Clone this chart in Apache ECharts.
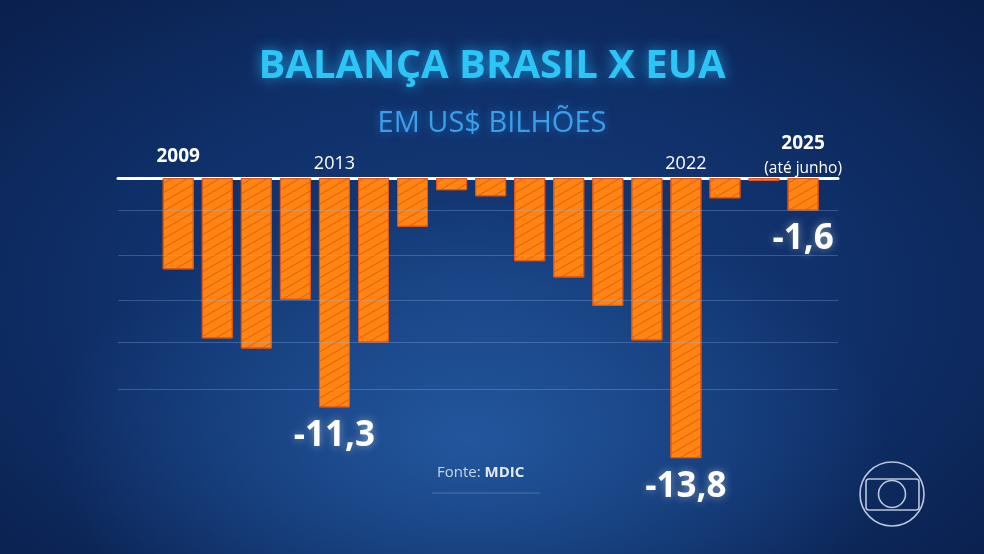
<!DOCTYPE html>
<html>
<head>
<meta charset="utf-8">
<script src="https://cdn.jsdelivr.net/npm/echarts@6/dist/echarts.min.js"></script>
<style>
html,body{margin:0;padding:0;width:984px;height:554px;overflow:hidden;}
#c{width:984px;height:554px;
background:
 radial-gradient(ellipse 420px 240px at 470px 440px, rgba(38,95,168,0.8), rgba(38,95,168,0) 100%),
 radial-gradient(ellipse 700px 420px at 480px 300px, #163d7c 0%, #0f2f68 55%, #0a1f4c 100%);
}
</style>
</head>
<body>
<div id="c"></div>
<script>
// ---- data ----
const years = ['2009','2010','2011','2012','2013','2014','2015','2016','2017','2018','2019','2020','2021','2022','2023','2024','2025'];
const balance = [-4.5, -7.9, -8.4, -6.0, -11.3, -8.1, -2.4, -0.6, -0.9, -4.1, -4.9, -6.3, -8.0, -13.8, -1.0, -0.15, -1.6];
const labelledYears = ['2009','2013','2022','2025'];
const boldYears = ['2009'];
const noteYear = '2025';
const noteText = '(até junho)';
const valueLabelYears = ['2013','2022','2025'];
const gridValues = [-1.6, -3.8, -6.0, -8.1, -10.4];
const titleText = 'BALANÇA BRASIL X EUA';
const subtitleText = 'EM US$ BILHÕES';

const fmt = v => String(v).replace('.', ',');
const FONT = '"Open Sans", "Noto Sans", sans-serif';

const chart = echarts.init(document.getElementById('c'), null, {renderer:'canvas'});

const barData = balance.map((v, i) => ({
  value: v,
  label: {show: valueLabelYears.includes(years[i])}
}));

const option = {
  backgroundColor: 'transparent',
  animation: false,
  title: [
    {text: titleText, left: 'center', top: 42,
     textStyle: {fontFamily: FONT, fontWeight: 'bold', fontSize: 40, color: '#2cc5f6',
       textShadowColor: 'rgba(40,190,255,0.75)', textShadowBlur: 14}},
    {text: subtitleText, left: 'center', top: 104,
     textStyle: {fontFamily: FONT, fontWeight: 'normal', fontSize: 29, color: '#3c9fe8',
       textShadowColor: 'rgba(40,150,255,0.6)', textShadowBlur: 10}}
  ],
  grid: [
    {left: 158.7, width: 663.9, top: 178, height: 304.5, containLabel: false},
    {left: 118, width: 720, top: 178, height: 304.5, containLabel: false}
  ],
  xAxis: [
    {type: 'category', data: years, gridIndex: 0, position: 'top',
     axisLine: {show: false}, axisTick: {show: false}, splitLine: {show: false},
     axisLabel: {
       interval: 0, margin: 0, fontFamily: FONT,
       formatter: v => {
         if (!labelledYears.includes(v)) return '';
         if (v === noteYear) return '{y|' + v + '}\n{s|' + noteText + '}';
         return boldYears.includes(v) ? '{b|' + v + '}' : '{r|' + v + '}';
       },
       rich: {
         b: {fontFamily: FONT, fontWeight: 'bold', fontSize: 19, color: '#ffffff', lineHeight: 42},
         y: {fontFamily: FONT, fontWeight: 'bold', fontSize: 19, color: '#ffffff', lineHeight: 32},
         r: {fontFamily: FONT, fontWeight: 'normal', fontSize: 18, color: '#ffffff', lineHeight: 28},
         s: {fontFamily: FONT, fontWeight: 'normal', fontSize: 15.5, color: '#ffffff', lineHeight: 18}
       }
     }},
    {type: 'value', gridIndex: 1, min: 0, max: 1, position: 'top',
     axisLine: {show: true, lineStyle: {color: '#ffffff', width: 3}},
     axisTick: {show: false}, axisLabel: {show: false}, splitLine: {show: false}}
  ],
  yAxis: [
    {type: 'value', gridIndex: 0, min: -15, max: 0,
     axisLine: {show: false}, axisTick: {show: false}, axisLabel: {show: false}, splitLine: {show: false}},
    {type: 'value', gridIndex: 1, min: -15, max: 0,
     axisLine: {show: false}, axisTick: {show: false}, axisLabel: {show: false}, splitLine: {show: false}}
  ],
  series: [
    {type: 'line', xAxisIndex: 1, yAxisIndex: 1, data: [], silent: true, z: 1,
     markLine: {silent: true, symbol: 'none', label: {show: false},
       lineStyle: {color: 'rgba(150,185,235,0.3)', width: 1, type: 'solid'},
       data: gridValues.map(v => ({yAxis: v}))}},
    {type: 'bar', xAxisIndex: 0, yAxisIndex: 0, data: barData, barWidth: 31, z: 3,
     itemStyle: {color: '#ff8412', borderColor: '#e2561a', borderWidth: 1,
       decal: {symbol: 'rect', symbolSize: 1, dashArrayX: [1, 0], dashArrayY: [1, 6.5],
               rotation: -Math.PI / 6, color: 'rgba(205,75,10,0.6)'}},
     label: {show: false, position: 'bottom', distance: 11, formatter: p => fmt(p.value),
       fontFamily: FONT, fontWeight: 'bold', fontSize: 35, color: '#ffffff',
       textShadowColor: 'rgba(255,255,255,0.45)', textShadowBlur: 8}}
  ],
  graphic: [
    {type: 'text', left: 437, top: 465, silent: true,
     style: {text: '{r|Fonte: }{b|MDIC}', rich: {
       r: {fontFamily: FONT, fontSize: 15, fill: '#c9d5e8'},
       b: {fontFamily: FONT, fontSize: 15, fontWeight: 'bold', fill: '#e3eaf5'}}}},
    {type: 'line', silent: true, shape: {x1: 432, y1: 493, x2: 540, y2: 493},
     style: {stroke: 'rgba(180,200,230,0.3)', lineWidth: 1}},
    {type: 'circle', silent: true, shape: {cx: 892, cy: 494, r: 32},
     style: {fill: 'none', stroke: '#b9c6dc', lineWidth: 1.6}},
    {type: 'rect', silent: true, shape: {x: 866, y: 479, width: 53, height: 31, r: 3},
     style: {fill: 'none', stroke: '#b9c6dc', lineWidth: 1.6}},
    {type: 'circle', silent: true, shape: {cx: 892, cy: 494, r: 13.5},
     style: {fill: 'none', stroke: '#b9c6dc', lineWidth: 1.6}}
  ]
};
chart.setOption(option);
</script>
</body>
</html>
